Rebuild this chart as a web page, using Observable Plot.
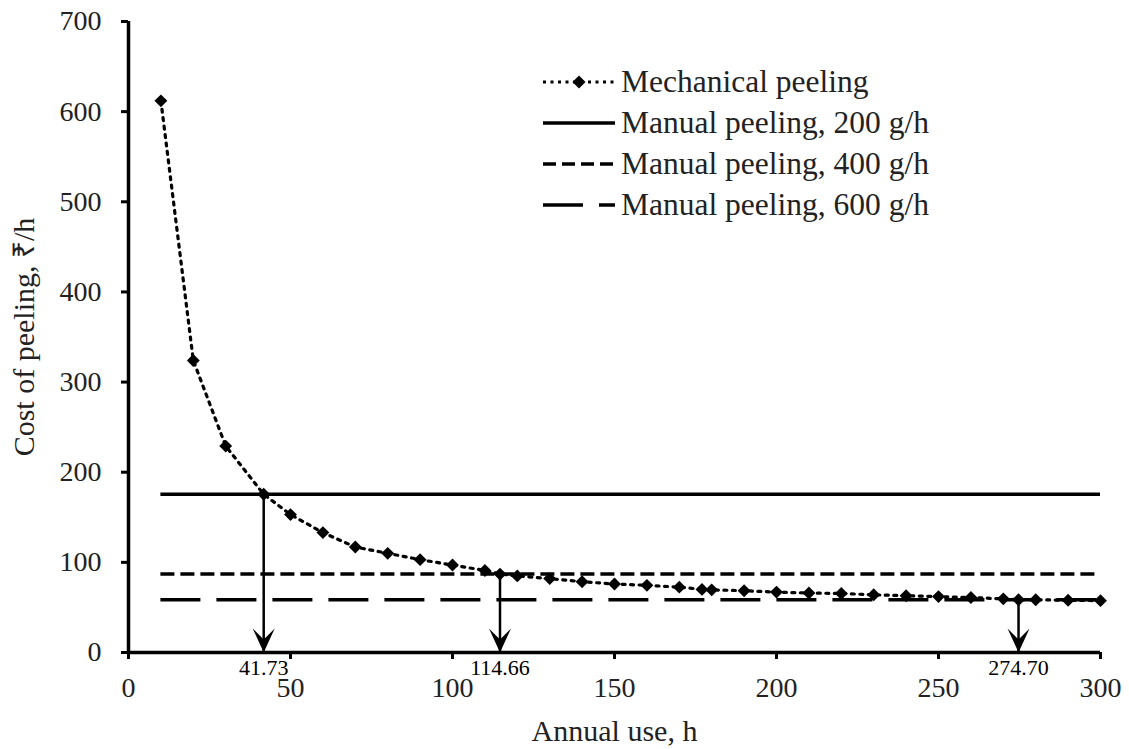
<!DOCTYPE html>
<html><head><meta charset="utf-8">
<script src="https://cdn.jsdelivr.net/npm/d3@7"></script>
<script src="https://cdn.jsdelivr.net/npm/@observablehq/plot@0.6"></script>
<style>
body{margin:0;background:#fff;}
#wrap{position:relative;width:1129px;height:749px;font-family:"Liberation Serif","Times New Roman",serif;}
#legend{position:absolute;left:543px;top:61px;}
.row{display:flex;align-items:center;height:41px;}
.row svg{display:block;width:72px;height:16px;margin-right:6px;}
.row span{font-size:31.5px;color:#222;line-height:1;white-space:nowrap;}
</style></head><body><div id="wrap"><div id="legend"></div></div>
<script>
// Mechanical peeling: annual use (h) and cost (₹/h)
const annualUse = [10, 20, 30, 41.73, 50, 60, 70, 80, 90, 100, 110, 114.66, 120, 130, 140, 150, 160, 170, 177, 180, 190, 200, 210, 220, 230, 240, 250, 260, 270, 274.70, 280, 290, 300];
const mechCost  = [612, 324, 229, 175.5, 153, 133, 117, 110, 103, 97, 91, 87, 85, 82, 78.5, 76, 74.5, 72.5, 70, 69.5, 68.5, 67, 66, 65.5, 64, 63, 62, 61, 59.5, 58.5, 58.5, 58, 57.5];

// Manual peeling (horizontal cost lines)
const manualLabels = ["Manual peeling, 200 g/h", "Manual peeling, 400 g/h", "Manual peeling, 600 g/h"];
const manualCost = [175.5, 87, 58.5];
const manualFrom = [10, 10, 10];
const manualTo = [300, 300, 300];
const manualDash = [null, "14,6", "40,16"];

// Break-even points
const breakEvenUse = [41.73, 114.66, 274.70];
const breakEvenLabels = ["41.73", "114.66", "274.70"];

const xTicks = [0, 50, 100, 150, 200, 250, 300];
const yTicks = [0, 100, 200, 300, 400, 500, 600, 700];
const xLabel = "Annual use, h";
const yLabel = "Cost of peeling, ₹/h";
const mechLabel = "Mechanical peeling";

const mech = annualUse.map((x, i) => ({x, y: mechCost[i]}));
const manual = manualLabels.map((k, i) => ({k, y: manualCost[i], x1: manualFrom[i], x2: manualTo[i]}));
const arrows = breakEvenUse.map((x, i) => ({x, y: manualCost[i], label: breakEvenLabels[i]}));

const arrowHead = {draw(ctx) {ctx.moveTo(0, 0); ctx.lineTo(-11, -24); ctx.lineTo(0, -13); ctx.lineTo(11, -24); ctx.closePath();}};

const manualMarks = manual.map((d, i) => Plot.ruleY([d], {y: "y", x1: "x1", x2: "x2", stroke: "#000", strokeWidth: 3.5, strokeDasharray: manualDash[i] || undefined}));

const chart = Plot.plot({
  width: 1129, height: 749,
  marginLeft: 128, marginRight: 29, marginTop: 21, marginBottom: 97,
  style: {fontFamily: "'Liberation Serif','Times New Roman',serif", fontSize: "28px", color: "#222", background: "#fff", overflow: "visible"},
  x: {domain: [0, 300]},
  y: {domain: [0, 700]},
  marks: [
    ...manualMarks,
    Plot.line(mech, {x: "x", y: "y", stroke: "#000", strokeWidth: 3.2, strokeDasharray: "3,5.5"}),
    Plot.dot(mech, {x: "x", y: "y", symbol: "diamond2", r: 5.8, fill: "#000", stroke: "none"}),
    Plot.ruleX(arrows, {x: "x", y1: "y", y2: 0, stroke: "#000", strokeWidth: 2.5}),
    Plot.dot(arrows, {x: "x", y: () => 0, symbol: arrowHead, fill: "#000", stroke: "none"}),
    Plot.text(arrows, {x: "x", y: () => 0, text: "label", dy: 15, fontSize: 22, fill: "#000"}),
    Plot.axisX({ticks: xTicks, tickSize: 7, tickPadding: 18, strokeWidth: 3, stroke: "#000", fontSize: 28, label: null}),
    Plot.axisX({ticks: [], tickSize: 0, fontSize: 30, label: xLabel, labelAnchor: "center", labelArrow: "none", labelOffset: 88}),
    Plot.axisY({ticks: yTicks, tickSize: 7, tickPadding: 20, strokeWidth: 3, stroke: "#000", fontSize: 28, label: null}),
    Plot.axisY({ticks: [], tickSize: 0, fontSize: 30, label: yLabel, labelAnchor: "center", labelArrow: "none", labelOffset: 116}),
    Plot.ruleX([0], {stroke: "#000", strokeWidth: 3.5}),
    Plot.ruleY([0], {stroke: "#000", strokeWidth: 3.5})
  ]
});
const wrap = document.getElementById("wrap");
wrap.insertBefore(chart, wrap.firstChild);

// Legend
const legend = document.getElementById("legend");
const items = [{label: mechLabel, mech: true}, ...manualLabels.map((l, i) => ({label: l, dash: manualDash[i]}))];
for (const it of items) {
  const row = document.createElement("div");
  row.className = "row";
  let svg;
  if (it.mech) {
    svg = `<svg viewBox="0 0 72 16"><line x1="0" y1="8" x2="72" y2="8" stroke="#000" stroke-width="3" stroke-dasharray="3,4.5"/><path d="M36,1.5 L42.5,8 L36,14.5 L29.5,8 Z" fill="#000"/></svg>`;
  } else {
    svg = `<svg viewBox="0 0 72 16"><line x1="0" y1="8" x2="72" y2="8" stroke="#000" stroke-width="3.5" ${it.dash ? `stroke-dasharray="${it.dash === "14,6" ? "13,6" : it.dash}"` : ""}/></svg>`;
  }
  row.innerHTML = svg + `<span>${it.label}</span>`;
  legend.appendChild(row);
}
</script>
</body></html>
